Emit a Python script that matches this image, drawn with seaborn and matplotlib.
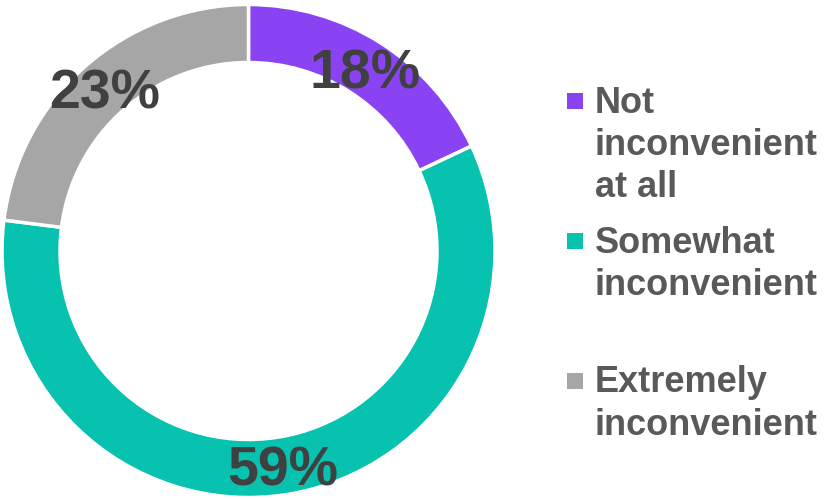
import matplotlib
matplotlib.use("Agg")
import matplotlib.pyplot as plt
import seaborn as sns
from matplotlib.patches import Rectangle

# Survey shares (percent) per answer, drawn clockwise from 12 o'clock
categories = ["Not inconvenient at all", "Somewhat inconvenient", "Extremely inconvenient"]
legend_lines = [["Not", "inconvenient", "at all"],
                ["Somewhat", "inconvenient"],
                ["Extremely", "inconvenient"]]
shares = [18, 59, 23]
colors = ["#8A43F2", "#06C2AF", "#A6A6A6"]

sns.set_theme(style="white")
plt.rcParams["font.family"] = ["Liberation Sans", "DejaVu Sans"]

W, H = 828, 499
fig = plt.figure(figsize=(W / 100, H / 100), dpi=100)
fig.patch.set_facecolor("white")

# Donut geometry in pixels
cx, cy, R, ring = 248.5, 251.0, 246.5, 58.0
ax = fig.add_axes([(cx - R) / W, (H - cy - R) / H, 2 * R / W, 2 * R / H])

wedges, _, autotexts = ax.pie(
    shares,
    colors=colors,
    startangle=90,
    counterclock=False,
    radius=1.0,
    autopct=lambda p: f"{p:.0f}%",
    pctdistance=0.88,
    wedgeprops=dict(width=ring / R, edgecolor="white", linewidth=2.5),
    textprops=dict(fontsize=40, fontweight="bold", color="#404040"),
)
# nudge the percentage labels slightly downward
for t in autotexts:
    x, y = t.get_position()
    t.set_position((x, y - 6.5 / R))
ax.set_xlim(-1, 1)
ax.set_ylim(-1, 1)
ax.set_aspect("equal")
ax.axis("off")

# Legend: colored squares with wrapped labels
text_x = 595
square_x, square_size = 567, 16
first_baselines = [113, 253, 392]
line_step = [42, 42, 43]
square_tops = [93, 233, 373]
for lines, base, step, top, col in zip(legend_lines, first_baselines, line_step, square_tops, colors):
    fig.patches.append(Rectangle((square_x / W, 1 - (top + square_size) / H),
                                 square_size / W, square_size / H,
                                 transform=fig.transFigure, facecolor=col,
                                 edgecolor="none"))
    for i, line in enumerate(lines):
        fig.text(text_x / W, 1 - (base + i * step) / H, line, fontsize=26,
                 fontweight="bold", color="#595959", ha="left", va="baseline")

fig.savefig("out.png", dpi=100, facecolor="white")
